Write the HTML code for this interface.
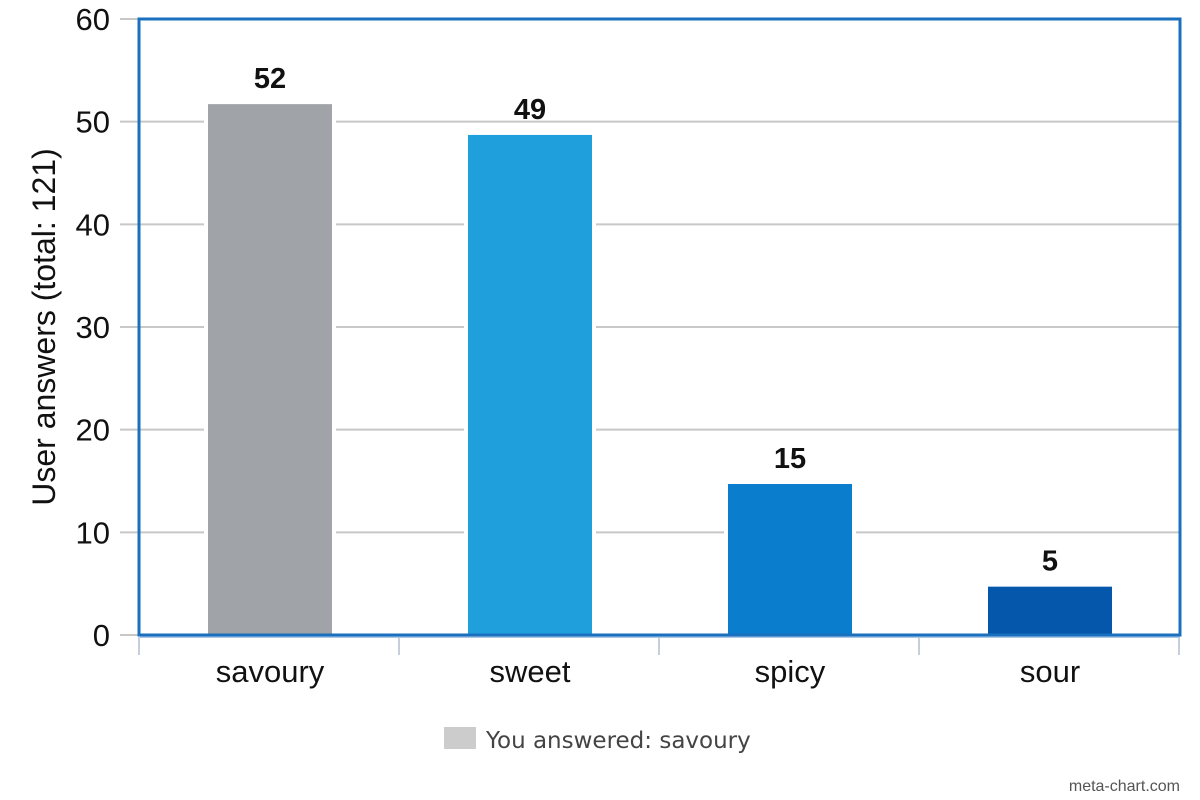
<!DOCTYPE html>
<html><head><meta charset="utf-8"><style>
body{margin:0;background:#fff;}
svg{display:block;font-family:"Liberation Sans",sans-serif;}
</style></head><body>
<svg id="chart" width="1200" height="800">
<g id="grid"></g><g id="bars"></g><g id="labels"></g><g id="axes"></g>
<text transform="translate(55,327) rotate(-90)" text-anchor="middle" font-size="32" fill="#111">User answers (total: 121)</text>
<rect x="444" y="727" width="32" height="22" fill="#cccccc"/>
<text x="486" y="748" font-size="23" fill="#444" font-family="DejaVu Sans, sans-serif">You answered: savoury</text>
<text x="1180" y="791" text-anchor="end" font-size="16" fill="#555">meta-chart.com</text>
</svg>
<script>
const categories=["savoury","sweet","spicy","sour"];
const values=[52,49,15,5];
const colors=["#a0a3a7","#1fa0dd","#0a7dcd","#0457ab"];
const yTicks=[0,10,20,30,40,50,60];
const NS="http://www.w3.org/2000/svg";
const L=140,R=1180,T=19,B=635,yMax=60;
const y=v=>B-(v/yMax)*(B-T);
const band=(R-L)/categories.length;
const xc=i=>L+band*(i+0.5);
const bw=124;
function mk(tag,attrs,parent,text){const e=document.createElementNS(NS,tag);for(const k in attrs)e.setAttribute(k,attrs[k]);if(text!==undefined)e.textContent=text;document.getElementById(parent).appendChild(e);return e;}
yTicks.forEach(t=>{
  const g=mk("line",{x1:120,x2:R,y1:y(t),y2:y(t),stroke:"#c8c8c8","stroke-width":2},"grid");
  
  
  const tx=mk("text",{x:110,y:y(t)+11,"text-anchor":"end","font-size":31,fill:"#111"},"axes",t);
  
  
});
categories.forEach((c,i)=>{
  const gap=mk("rect",{x:xc(i)-bw/2-4,y:y(values[i]),width:bw+8,height:B-y(values[i]),fill:"#fff"},"bars");
  
  
  const b=mk("rect",{x:xc(i)-bw/2,y:y(values[i])+3,width:bw,height:B-y(values[i])-3,fill:colors[i]},"bars");
  
  
  const v=mk("text",{x:xc(i),y:y(values[i])-13,"text-anchor":"middle","font-size":29,"font-weight":"bold",fill:"#111"},"labels",values[i]);
  
  
  const cl=mk("text",{x:xc(i),y:682,"text-anchor":"middle","font-size":31,fill:"#111"},"labels",c);
  
  
});
for(let i=0;i<=categories.length;i++){
  const t=mk("line",{x1:L-1+band*i,x2:L-1+band*i,y1:637,y2:655,stroke:"#c5cfdc","stroke-width":2},"axes");
  
  
}
const bl=mk("line",{x1:L,x2:R,y1:637,y2:637,stroke:"#a9c7e6","stroke-width":2},"axes");


const fr=mk("rect",{x:L-1,y:T,width:R-L+1,height:B-T,fill:"none",stroke:"#1a6fbf","stroke-width":3},"axes");


</script>
</body></html>
